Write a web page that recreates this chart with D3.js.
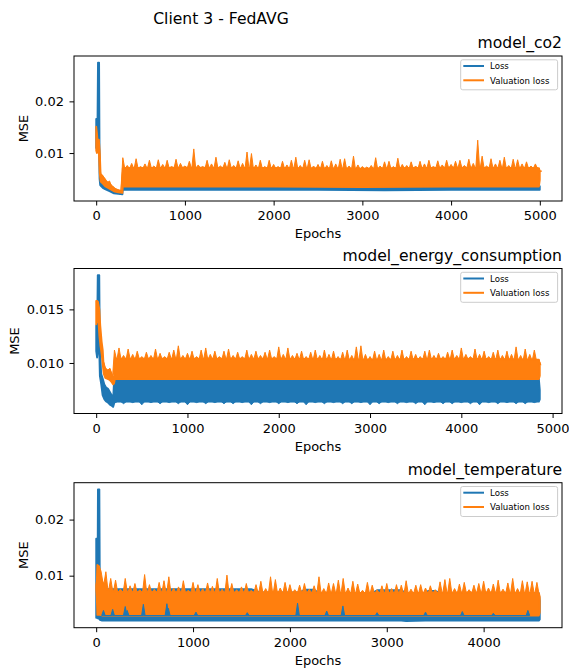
<!DOCTYPE html>
<html>
<head>
<meta charset="utf-8">
<script src="https://cdn.jsdelivr.net/npm/d3@7"></script>
<style>
  body { margin: 0; background: #fff; }
  svg text { font-family: "DejaVu Sans", sans-serif; fill: #000; }
</style>
</head>
<body>
<svg id="chart" width="569" height="670"></svg>
<script>
const xTicks = [0, 1000, 2000, 3000, 4000, 5000];
const legendNames = ["Loss", "Valuation loss"];
const lossColor = "#1f77b4";
const valColor = "#ff7f0e";
const PEAK_STEP = 50;
const DIP_STEP = 100;

// model_co2 : body rows are [epoch, low, high]
const co2Epochs = 5000;
const co2LossBody = [
    [0, 0.0110, 0.0166], [8, 0.0125, 0.0166], [14, 0.0118, 0.0150], [20, 0.0118, 0.0275],
    [33, 0.0100, 0.0275], [38, 0.0050, 0.0110], [45, 0.0038, 0.0060], [60, 0.0035, 0.0050],
    [80, 0.0032, 0.0040], [100, 0.0030, 0.0036], [150, 0.0026, 0.0031], [200, 0.0022, 0.0026],
    [250, 0.0021, 0.0024], [296, 0.0020, 0.0023], [300, 0.0029, 0.0036], [1000, 0.0029, 0.0036],
    [1750, 0.0029, 0.0037], [2500, 0.0029, 0.0036], [3250, 0.0028, 0.0036], [4000, 0.0029, 0.0036],
    [5000, 0.0029, 0.0036]
];
const co2ValBody = [
    [0, 0.0105, 0.0151], [8, 0.0100, 0.0140], [15, 0.0110, 0.0126], [30, 0.0100, 0.0126],
    [40, 0.0060, 0.0105], [50, 0.0045, 0.0060], [75, 0.0041, 0.0055], [100, 0.0036, 0.0047],
    [130, 0.0033, 0.0043], [160, 0.0030, 0.0039], [200, 0.0026, 0.0032], [250, 0.0024, 0.0028],
    [296, 0.0023, 0.0027], [300, 0.0035, 0.0071], [1000, 0.0035, 0.0072], [2000, 0.0035, 0.0071],
    [3000, 0.0034, 0.0070], [4000, 0.0035, 0.0072], [4990, 0.0035, 0.0071], [5000, 0.0048, 0.0065]
];
const co2ValPeakStart = 50;
const co2ValPeaks = [
    0.0060, 0.0051, 0.0046, 0.0034, 0.0029, 0.0091, 0.0076, 0.0080, 0.0089, 0.0074,
    0.0079, 0.0086, 0.0075, 0.0087, 0.0078, 0.0086, 0.0074, 0.0088, 0.0080, 0.0075,
    0.0084, 0.0108, 0.0077, 0.0074, 0.0086, 0.0079, 0.0092, 0.0075, 0.0082, 0.0087,
    0.0076, 0.0085, 0.0080, 0.0102, 0.0099, 0.0077, 0.0086, 0.0074, 0.0086, 0.0078,
    0.0074, 0.0084, 0.0077, 0.0086, 0.0092, 0.0076, 0.0086, 0.0087, 0.0075, 0.0078,
    0.0084, 0.0076, 0.0085, 0.0079, 0.0088, 0.0089, 0.0075, 0.0094, 0.0077, 0.0074,
    0.0073, 0.0076, 0.0091, 0.0075, 0.0083, 0.0084, 0.0074, 0.0090, 0.0078, 0.0076,
    0.0083, 0.0075, 0.0084, 0.0079, 0.0086, 0.0074, 0.0085, 0.0077, 0.0086, 0.0078,
    0.0084, 0.0086, 0.0076, 0.0088, 0.0080, 0.0125, 0.0094, 0.0075, 0.0089, 0.0079,
    0.0086, 0.0092, 0.0076, 0.0088, 0.0087, 0.0079, 0.0083, 0.0075, 0.0079, 0.0065
];
const co2YTicks = [0.01, 0.02];

// model_energy_consumption
const energyEpochs = 4860;
const energyLossBody = [
    [0, 0.0111, 0.0135], [10, 0.0105, 0.0130], [17, 0.0110, 0.0182], [34, 0.0110, 0.0182],
    [40, 0.0088, 0.0118], [55, 0.0080, 0.0090], [70, 0.0070, 0.0086], [90, 0.0066, 0.0080],
    [110, 0.0064, 0.0077], [130, 0.0063, 0.0076], [150, 0.0061, 0.0073], [170, 0.0060, 0.0070],
    [186, 0.0059, 0.0067], [196, 0.0062, 0.0084], [205, 0.0064, 0.0085], [1000, 0.0064, 0.0085],
    [2000, 0.0064, 0.0085], [3000, 0.0064, 0.0085], [4000, 0.0064, 0.0085], [4850, 0.0064, 0.0085],
    [4860, 0.0066, 0.0075]
];
const energyValBody = [
    [0, 0.0136, 0.0158], [10, 0.0140, 0.0158], [20, 0.0145, 0.0157], [35, 0.0125, 0.0150],
    [45, 0.0117, 0.0135], [60, 0.0108, 0.0120], [72, 0.0098, 0.0112], [82, 0.0090, 0.0097],
    [100, 0.0086, 0.0094], [130, 0.0085, 0.0093], [150, 0.0084, 0.0094], [170, 0.0082, 0.0089],
    [186, 0.0080, 0.0085], [196, 0.0081, 0.0086], [205, 0.0085, 0.0104], [1000, 0.0085, 0.0104],
    [2000, 0.0085, 0.0104], [3000, 0.0085, 0.0103], [4000, 0.0085, 0.0104], [4850, 0.0085, 0.0103],
    [4860, 0.0088, 0.0098]
];
const energyValPeakStart = 100;
const energyValPeaks = [
    0.0096, 0.0095, 0.0112, 0.0114, 0.0107, 0.0113, 0.0108, 0.0111, 0.0106, 0.0110,
    0.0107, 0.0113, 0.0109, 0.0106, 0.0110, 0.0112, 0.0116, 0.0107, 0.0109, 0.0111,
    0.0106, 0.0112, 0.0114, 0.0108, 0.0111, 0.0106, 0.0111, 0.0113, 0.0107, 0.0110,
    0.0106, 0.0112, 0.0108, 0.0111, 0.0107, 0.0110, 0.0112, 0.0106, 0.0115, 0.0108,
    0.0114, 0.0107, 0.0109, 0.0111, 0.0106, 0.0110, 0.0112, 0.0107, 0.0112, 0.0108,
    0.0111, 0.0106, 0.0110, 0.0112, 0.0107, 0.0115, 0.0116, 0.0108, 0.0106, 0.0111,
    0.0108, 0.0112, 0.0106, 0.0111, 0.0107, 0.0112, 0.0106, 0.0111, 0.0108, 0.0106,
    0.0111, 0.0112, 0.0107, 0.0109, 0.0106, 0.0110, 0.0112, 0.0107, 0.0114, 0.0108,
    0.0106, 0.0113, 0.0108, 0.0111, 0.0106, 0.0110, 0.0112, 0.0107, 0.0111, 0.0108,
    0.0115, 0.0107, 0.0113, 0.0108, 0.0112, 0.0100
];
const energyLossDipStart = 200;
const energyLossDips = [
    0.0063, 0.0062, 0.0063, 0.0061, 0.0063, 0.0062, 0.0063, 0.0062, 0.0061, 0.0063,
    0.0062, 0.0063, 0.0062, 0.0062, 0.0063, 0.0061, 0.0062, 0.0063, 0.0062, 0.0063,
    0.0062, 0.0061, 0.0063, 0.0062, 0.0063, 0.0062, 0.0062, 0.0063, 0.0061, 0.0062,
    0.0063, 0.0062, 0.0063, 0.0062, 0.0061, 0.0063, 0.0062, 0.0062, 0.0063, 0.0062,
    0.0061, 0.0063, 0.0062, 0.0063, 0.0062, 0.0062, 0.0063
];
const energyYTicks = [0.010, 0.015];

// model_temperature
const tempEpochs = 4580;
const tempLossBody = [
    [0, 0.0025, 0.0166], [9, 0.0025, 0.0166], [13, 0.0025, 0.0070], [18, 0.0024, 0.0254],
    [33, 0.0023, 0.0254], [38, 0.0021, 0.0075], [60, 0.0020, 0.0076], [1600, 0.0020, 0.0076],
    [1700, 0.0020, 0.0070], [2100, 0.0020, 0.0070], [2150, 0.0020, 0.0075], [2250, 0.0020, 0.0075],
    [2300, 0.0020, 0.0069], [2850, 0.0020, 0.0069], [2900, 0.0020, 0.0074], [3150, 0.0020, 0.0074],
    [3200, 0.0019, 0.0069], [3400, 0.0020, 0.0069], [3430, 0.0020, 0.0073], [3500, 0.0020, 0.0073],
    [3550, 0.0020, 0.0069], [4570, 0.0020, 0.0069], [4580, 0.0022, 0.0055]
];
const tempValBody = [
    [0, 0.0075, 0.0083], [6, 0.0060, 0.0090], [12, 0.0030, 0.0119], [30, 0.0030, 0.0117],
    [40, 0.0030, 0.0100], [60, 0.0029, 0.0090], [110, 0.0029, 0.0075], [200, 0.0029, 0.0071],
    [1000, 0.0029, 0.0070], [2000, 0.0029, 0.0070], [3000, 0.0029, 0.0069], [4000, 0.0029, 0.0070],
    [4570, 0.0029, 0.0069], [4580, 0.0035, 0.0062]
];
const tempValPeakStart = 50;
const tempValPeaks = [
    0.0108, 0.0107, 0.0095, 0.0092, 0.0076, 0.0095, 0.0082, 0.0086, 0.0075, 0.0102,
    0.0084, 0.0076, 0.0088, 0.0091, 0.0098, 0.0078, 0.0080, 0.0091, 0.0074, 0.0088,
    0.0084, 0.0077, 0.0087, 0.0081, 0.0095, 0.0076, 0.0101, 0.0086, 0.0075, 0.0080,
    0.0086, 0.0074, 0.0084, 0.0090, 0.0077, 0.0098, 0.0093, 0.0078, 0.0088, 0.0084,
    0.0075, 0.0083, 0.0086, 0.0076, 0.0082, 0.0098, 0.0077, 0.0087, 0.0086, 0.0092,
    0.0095, 0.0078, 0.0090, 0.0085, 0.0074, 0.0088, 0.0083, 0.0075, 0.0082, 0.0086,
    0.0077, 0.0084, 0.0083, 0.0091, 0.0076, 0.0083, 0.0084, 0.0078, 0.0082, 0.0075,
    0.0089, 0.0093, 0.0095, 0.0077, 0.0085, 0.0088, 0.0075, 0.0083, 0.0086, 0.0090,
    0.0078, 0.0085, 0.0092, 0.0076, 0.0087, 0.0095, 0.0077, 0.0091, 0.0089, 0.0090,
    0.0088
];
// blue spikes that show through the orange band, [epoch, value]
const tempLossSpikes = [
    [75, 0.0038], [170, 0.0040], [300, 0.0045], [320, 0.0038], [487, 0.0049], [730, 0.0050],
    [745, 0.0042], [1030, 0.0035], [1560, 0.0034], [2079, 0.0051], [2380, 0.0037], [2547, 0.0046],
    [2900, 0.0034], [3400, 0.0035], [3780, 0.0036], [4100, 0.0033], [4457, 0.0038]
];
const tempYTicks = [0.01, 0.02];

const svg = d3.select("#chart");
const axLeft = 74, axRight = 562, axHeight = 145;

svg.append("text")
    .attr("x", 221)
    .attr("y", 24.3)
    .attr("text-anchor", "middle")
    .attr("font-size", 15.6)
    .text("Client 3 - FedAVG");

// edge of a band at epoch e (k = 1 low edge, k = 2 high edge), straight between rows
function edgeAt(body, e, k) {
    const i = d3.bisector((d) => d[0]).right(body, e);
    if (i <= 0) return body[0][k];
    if (i >= body.length) return body[body.length - 1][k];
    const a = body[i - 1], b = body[i];
    const t = (e - a[0]) / (b[0] - a[0]);
    return a[k] + (b[k] - a[k]) * t;
}

function drawPanel(p) {
    const g = svg.append("g");
    const x = d3.scaleLinear()
        .domain([-0.05 * p.epochs, 1.05 * p.epochs])
        .range([axLeft, axRight]);

    const allY = [
        ...p.lossBody.flatMap((d) => [d[1], d[2]]),
        ...p.valBody.flatMap((d) => [d[1], d[2]]),
        ...p.valPeaks,
        ...(p.lossDips || []),
        ...(p.lossSpikes || []).map((d) => d[1]),
    ];
    const [yMin, yMax] = d3.extent(allY);
    const pad = (yMax - yMin) * 0.05;
    const y = d3.scaleLinear()
        .domain([yMin - pad, yMax + pad])
        .range([p.top + axHeight, p.top]);

    const area = d3.area()
        .x((d) => x(d[0]))
        .y0((d) => y(d[1]))
        .y1((d) => y(d[2]));

    function band(rows, color, sw) {
        g.append("path")
            .datum(rows)
            .attr("d", area)
            .attr("fill", color)
            .attr("stroke", color)
            .attr("stroke-width", sw)
            .attr("stroke-linejoin", "round");
    }

    // spikes: narrow teeth standing on the band edge
    function teeth(items, body, k, half, color) {
        const rows = [];
        items.forEach(({ e, v }) => {
            const b0 = edgeAt(body, e - half, k);
            const b1 = edgeAt(body, e, k);
            const b2 = edgeAt(body, e + half, k);
            const out = k === 2 ? Math.max(v, b1) : Math.min(v, b1);
            rows.push([e - half, b0, b0], [e, b1, out], [e + half, b2, b2]);
        });
        band(rows, color, 1);
    }

    // Loss
    band(p.lossBody, lossColor, 1.8);
    if (p.lossDips) {
        teeth(p.lossDips.map((v, i) => ({ e: p.lossDipStart + i * DIP_STEP, v })),
            p.lossBody, 1, DIP_STEP * 0.3, lossColor);
    }

    // Valuation loss
    band(p.valBody, valColor, 1.8);
    teeth(p.valPeaks.map((v, i) => ({ e: p.valPeakStart + i * PEAK_STEP, v })),
        p.valBody, 2, PEAK_STEP * 0.42, valColor);

    if (p.lossSpikes) {
        const rows = [];
        p.lossSpikes.forEach(([e, v]) => {
            rows.push([e - 18, 0.0029, 0.0029], [e, 0.0029, v], [e + 18, 0.0029, 0.0029]);
        });
        band(rows, lossColor, 1);
    }

    // axes
    const xAxis = g.append("g")
        .attr("transform", `translate(0,${p.top + axHeight})`)
        .call(d3.axisBottom(x)
            .tickValues(xTicks.filter((t) => t <= x.domain()[1]))
            .tickFormat(d3.format("d"))
            .tickSize(4.5)
            .tickPadding(5.5)
            .tickSizeOuter(0));
    const yAxis = g.append("g")
        .attr("transform", `translate(${axLeft},0)`)
        .call(d3.axisLeft(y)
            .tickValues(p.yTicks)
            .tickFormat(d3.format(p.yFormat))
            .tickSize(4.5)
            .tickPadding(5.5)
            .tickSizeOuter(0));
    [xAxis, yAxis].forEach((a) => {
        a.select(".domain").remove();
        a.attr("font-family", "DejaVu Sans").attr("font-size", 13).attr("color", "#000");
        a.selectAll("line").attr("stroke-width", 1);
    });

    g.append("rect")
        .attr("x", axLeft)
        .attr("y", p.top)
        .attr("width", axRight - axLeft)
        .attr("height", axHeight)
        .attr("fill", "none")
        .attr("stroke", "#000")
        .attr("stroke-width", 1);

    g.append("text")
        .attr("x", (axLeft + axRight) / 2)
        .attr("y", p.top + axHeight + 37)
        .attr("text-anchor", "middle")
        .attr("font-size", 13)
        .text("Epochs");

    const labelLeft = axLeft + yAxis.node().getBBox().x;
    g.append("text")
        .attr("transform", `translate(${labelLeft - 7.3},${p.top + axHeight / 2}) rotate(-90)`)
        .attr("text-anchor", "middle")
        .attr("font-size", 13)
        .text("MSE");

    g.append("text")
        .attr("x", axRight)
        .attr("y", p.top - 8)
        .attr("text-anchor", "end")
        .attr("font-size", 15.6)
        .text(p.title);

    // legend
    const lw = 96.9, lh = 30;
    const lx = axRight - 4.4 - lw, ly = p.top + 3.8;
    const leg = g.append("g");
    leg.append("rect")
        .attr("x", lx)
        .attr("y", ly)
        .attr("width", lw)
        .attr("height", lh)
        .attr("rx", 2)
        .attr("fill", "#fff")
        .attr("fill-opacity", 0.8)
        .attr("stroke", "#cccccc")
        .attr("stroke-width", 1);
    [lossColor, valColor].forEach((c, i) => {
        const yy = ly + 6.2 + i * 14.3;
        leg.append("line")
            .attr("x1", lx + 2.6)
            .attr("x2", lx + 23.3)
            .attr("y1", yy)
            .attr("y2", yy)
            .attr("stroke", c)
            .attr("stroke-width", 2);
        leg.append("text")
            .attr("x", lx + 29.3)
            .attr("y", yy + 3.2)
            .attr("font-size", 8.6)
            .text(legendNames[i]);
    });
}

drawPanel({
    top: 56, title: "model_co2", epochs: co2Epochs,
    lossBody: co2LossBody, valBody: co2ValBody,
    valPeaks: co2ValPeaks, valPeakStart: co2ValPeakStart,
    yTicks: co2YTicks, yFormat: ".2f",
});
drawPanel({
    top: 268.5, title: "model_energy_consumption", epochs: energyEpochs,
    lossBody: energyLossBody, valBody: energyValBody,
    valPeaks: energyValPeaks, valPeakStart: energyValPeakStart,
    lossDips: energyLossDips, lossDipStart: energyLossDipStart,
    yTicks: energyYTicks, yFormat: ".3f",
});
drawPanel({
    top: 482.7, title: "model_temperature", epochs: tempEpochs,
    lossBody: tempLossBody, valBody: tempValBody,
    valPeaks: tempValPeaks, valPeakStart: tempValPeakStart,
    lossSpikes: tempLossSpikes,
    yTicks: tempYTicks, yFormat: ".2f",
});
</script>
</body>
</html>
